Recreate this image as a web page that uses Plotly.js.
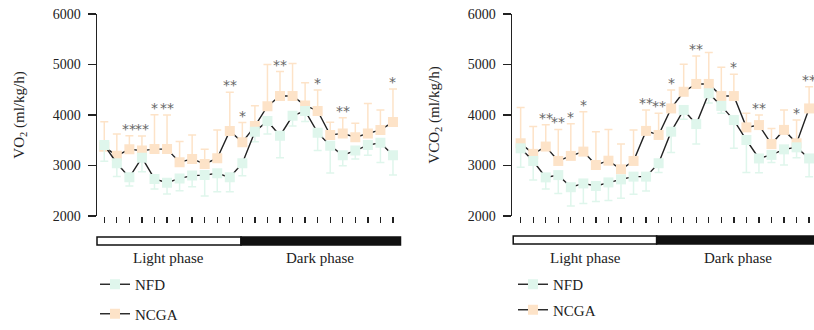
<!DOCTYPE html>
<html>
<head>
<meta charset="utf-8">
<script src="https://cdn.plot.ly/plotly-3.0.1.min.js"></script>
<style>html,body{margin:0;padding:0;background:#fff;}#chart{width:814px;height:330px;}</style>
</head>
<body>
<div id="chart"></div>
<script>
// Time points (24 hourly bins)
const hours = [0,1,2,3,4,5,6,7,8,9,10,11,12,13,14,15,16,17,18,19,20,21,22,23];

// VO2 (ml/kg/h)
const vo2NFD     = [3405,3045,2765,3155,2735,2660,2745,2800,2810,2845,2765,3045,3670,3880,3590,3985,4080,3650,3390,3205,3295,3405,3450,3205];
const vo2NFDErr  = [320,265,170,280,200,225,245,220,415,365,285,250,200,255,435,205,210,355,540,210,165,200,390,395];
const vo2NCGA    = [3370,3195,3320,3295,3325,3325,3065,3130,3030,3145,3685,3460,3780,4175,4375,4375,4190,4080,3605,3635,3560,3635,3705,3860];
const vo2NCGAErr = [495,430,270,290,680,675,410,475,290,560,765,390,405,825,485,645,450,415,250,310,275,595,395,655];

// VCO2 (ml/kg/h)
const vco2NFD     = [3340,3090,2765,2810,2570,2645,2595,2665,2725,2780,2780,3045,3670,4100,3820,4430,4180,3900,3505,3140,3210,3320,3360,3140];
const vco2NFDErr  = [375,375,230,365,370,395,310,360,375,350,285,185,415,185,395,190,145,560,645,285,150,310,205,365];
const vco2NCGA    = [3440,3230,3375,3090,3190,3275,3010,3095,2925,3090,3685,3605,4130,4460,4615,4615,4375,4375,3755,3800,3425,3705,3440,4130];
const vco2NCGAErr = [710,540,430,625,635,790,660,620,500,615,415,430,365,545,555,625,570,430,280,200,310,395,460,430];

// Significance marks
const vo2StarIdx  = [2,3,4,5,10,11,14,17,19,23];
const vo2StarTxt  = ["**","**","*","**","**","*","**","*","**","*"];
const vco2StarIdx = [2,3,4,5,10,11,12,14,17,19,22,23];
const vco2StarTxt = ["**","**","*","*","**","**","*","**","*","**","*","**"];

const seriesNames = ["NFD","NCGA"];
const phaseLabels = ["Light phase","Dark phase"];
const yTitles = ["VO<sub>2</sub> (ml/kg/h)","VCO<sub>2</sub> (ml/kg/h)"];

const GREEN = '#dff6ec';
const ORANGE = '#fde3c8';
const LINE = '#222';
const FONT = 'Liberation Serif, Times New Roman, serif';

function mk(name, rank, y, err, up, color, xa, ya, legend) {
  return {
    type: 'scatter', mode: 'lines+markers', name: name, legendrank: rank,
    x: hours, y: y, xaxis: xa, yaxis: ya, legend: legend, legendgroup: legend + name,
    line: {color: LINE, width: 1.4},
    marker: {symbol: 'square', size: 10, color: color},
    error_y: up
      ? {type: 'data', symmetric: false, array: err, arrayminus: hours.map(() => 0), color: color, thickness: 1.5, width: 4}
      : {type: 'data', symmetric: false, array: hours.map(() => 0), arrayminus: err, color: color, thickness: 1.5, width: 4}
  };
}

const data = [
  mk(seriesNames[1], 2, vo2NCGA, vo2NCGAErr, true, ORANGE, 'x', 'y', 'legend'),
  mk(seriesNames[0], 1, vo2NFD, vo2NFDErr, false, GREEN, 'x', 'y', 'legend'),
  mk(seriesNames[1], 2, vco2NCGA, vco2NCGAErr, true, ORANGE, 'x2', 'y2', 'legend2'),
  mk(seriesNames[0], 1, vco2NFD, vco2NFDErr, false, GREEN, 'x2', 'y2', 'legend2')
];

const W = 814, H = 330;
const yDom = [(H - 216) / H, (H - 14) / H];

function xax(dom, range) {
  return {
    domain: dom, range: range, showgrid: false, zeroline: false, showline: false,
    ticks: 'outside', ticklen: 6, tickwidth: 1.3, tickcolor: LINE,
    tickvals: hours, showticklabels: false, fixedrange: true
  };
}
function yax(anchor, title) {
  return {
    domain: yDom, range: [2000, 6000], anchor: anchor, dtick: 1000,
    showgrid: false, zeroline: false, showline: true, linecolor: LINE, linewidth: 1.5,
    ticks: 'outside', ticklen: 8, tickwidth: 1.3, tickcolor: LINE,
    tickfont: {family: FONT, size: 14, color: '#222'}, ticklabelstandoff: 4,
    title: {text: title, font: {family: FONT, size: 15, color: '#222'}, standoff: 24},
    fixedrange: true
  };
}

const annotations = [];
function stars(idx, txt, vals, errs, xa, ya) {
  idx.forEach((k, j) => {
    annotations.push({
      x: k, y: vals[k] + errs[k], xref: xa, yref: ya, text: txt[j], showarrow: false,
      yanchor: 'bottom', yshift: -3, font: {family: 'DejaVu Sans, sans-serif', size: 14, color: '#666'}
    });
  });
}
stars(vo2StarIdx, vo2StarTxt, vo2NCGA, vo2NCGAErr, 'x', 'y');
stars(vco2StarIdx, vco2StarTxt, vco2NCGA, vco2NCGAErr, 'x2', 'y2');

function phaseText(txt, px) {
  annotations.push({x: px / W, y: (H - 258) / H, xref: 'paper', yref: 'paper', text: txt,
    showarrow: false, xanchor: 'center', yanchor: 'middle', font: {family: FONT, size: 15, color: '#222'}});
}
phaseText(phaseLabels[0], 168); phaseText(phaseLabels[1], 320);
phaseText(phaseLabels[0], 585); phaseText(phaseLabels[1], 738);

const barY0 = (H - 245) / H, barY1 = (H - 237) / H;
const shapes = [
  {type: 'rect', xref: 'x domain', yref: 'paper', x0: 0, x1: 0.4745, y0: barY0, y1: barY1, fillcolor: '#fff', line: {color: '#111', width: 1.5}},
  {type: 'rect', xref: 'x domain', yref: 'paper', x0: 0.4745, x1: 1, y0: barY0, y1: barY1, fillcolor: '#111', line: {color: '#111', width: 1.5}},
  {type: 'rect', xref: 'x2 domain', yref: 'paper', x0: 0.004, x1: 0.479, y0: barY0 + 0.003, y1: barY1 + 0.003, fillcolor: '#fff', line: {color: '#111', width: 1.5}},
  {type: 'rect', xref: 'x2 domain', yref: 'paper', x0: 0.479, x1: 1.02, y0: barY0 + 0.003, y1: barY1 + 0.003, fillcolor: '#111', line: {color: '#111', width: 1.5}}
];

const legendBase = {
  xanchor: 'left', yanchor: 'top', bgcolor: 'rgba(0,0,0,0)', borderwidth: 0,
  font: {family: FONT, size: 15, color: '#222'}, itemsizing: 'trimmed', traceorder: 'grouped'
};

const layout = {
  width: W, height: H, margin: {l: 0, r: 0, t: 0, b: 0},
  paper_bgcolor: '#fff', plot_bgcolor: 'rgba(0,0,0,0)', showlegend: true,
  xaxis: xax([97 / W, 400.5 / W], [-0.58, 23.6]),
  yaxis: yax('x', yTitles[0]),
  xaxis2: xax([512 / W, 1], [-0.69, 23.39]),
  yaxis2: yax('x2', yTitles[1]),
  legend: Object.assign({}, legendBase, {x: 95 / W, y: (H - 268) / H, tracegroupgap: 7}),
  legend2: Object.assign({}, legendBase, {x: 513 / W, y: (H - 268) / H, tracegroupgap: 3}),
  annotations: annotations,
  shapes: shapes
};

Plotly.newPlot('chart', data, layout, {displayModeBar: false, staticPlot: true});
</script>
</body>
</html>
